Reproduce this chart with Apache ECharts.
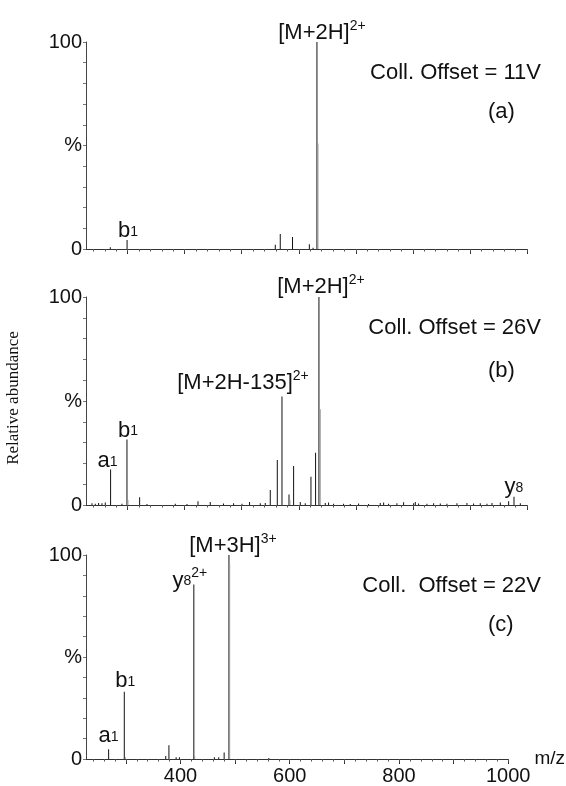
<!DOCTYPE html>
<html>
<head>
<meta charset="utf-8">
<script src="https://cdn.jsdelivr.net/npm/echarts@6/dist/echarts.min.js"></script>
<style>
  html, body { margin: 0; padding: 0; background: #fff; }
  #main { width: 566px; height: 786px; }
</style>
</head>
<body>
<div id="main"></div>
<script>
// axis values
const mzMin = 227;
const mzMax = 1000;
const majorTicks = [300, 400, 500, 600, 700, 800, 900, 1000];
const minorTicks = [240, 260, 280, 300, 320, 340, 360, 380, 400, 420, 440, 460, 480, 500,
  520, 540, 560, 580, 600, 620, 640, 660, 680, 700, 720, 740, 760, 780, 800,
  820, 840, 860, 880, 900, 920, 940, 960, 980, 1000];
const mzLabels = [400, 600, 800, 1000];
const yLabels = [0, 50, 100];

// (a) Coll. Offset = 11V  -- [m/z, %]
const peaksA = [[269.6, 0.8], [299, 4.3], [558.8, 2], [567.5, 7.2], [589, 5.8],
  [618.5, 2.3], [625, 0.6], [631.8, 100]];
const isoA = [[633.6, 51]];
const labelsA = [[299, 'b', '1', ''], [631.8, '[M+2H]', '', '2+']];

// (b) Coll. Offset = 26V
const peaksB = [[237.5, 0.8], [243.3, 0.6], [249.1, 1], [255, 0.8], [260.8, 1.2],
  [270.1, 17.1], [290, 0.6], [298.8, 31.5], [321, 3.7], [333.9, 0.5], [383.5, 0.6],
  [404, 0.5], [423.3, 1.8], [444.8, 1.5], [468, 0.7], [485.7, 0.8], [500.4, 0.6],
  [513.7, 1.5], [532.5, 0.8], [541.2, 1], [550, 7.2], [562.3, 21.6], [570.5, 52.2],
  [582.8, 5.1], [590.9, 18.7], [602.6, 1.5], [611.3, 0.8], [621.3, 13.6],
  [629.4, 25.1], [635.3, 100], [646.4, 1], [652.2, 1.2], [661, 0.6], [678.5, 0.6],
  [690.2, 0.5], [704.8, 0.7], [722.3, 0.5], [742.8, 1], [748.7, 1.2], [757.4, 0.6],
  [772, 0.8], [783.7, 1.3], [801.2, 0.8], [804.2, 1.4], [810, 0.7], [824.6, 0.6],
  [836.3, 0.8], [848, 0.7], [859.7, 0.6], [877.2, 0.8], [894.7, 1], [906.4, 0.7],
  [918.1, 0.9], [929.8, 0.6], [938.6, 1], [953.2, 1.2], [967.8, 1.8], [977.2, 4],
  [988.3, 0.8]];
const isoB = [[300.5, 2.4], [584.5, 2.5], [637.6, 46]];
const labelsB = [[270.1, 'a', '1', ''], [298.8, 'b', '1', ''],
  [570.5, '[M+2H-135]', '', '2+'], [635.3, '[M+2H]', '', '2+'], [977.2, 'y', '8', '']];

// (c) Coll. Offset = 22V
const peaksC = [[268.4, 4.8], [297.1, 33], [373, 1.5], [378.8, 6.7], [392, 0.8],
  [398, 0.8], [424.4, 85.5], [462, 0.8], [470, 0.8], [479.9, 3.2], [488.7, 100],
  [561.7, 0.5]];
const isoC = [[299, 1], [426, 1.5], [490, 96]];
const labelsC = [[268.4, 'a', '1', ''], [297.1, 'b', '1', ''],
  [424.4, 'y', '8', '2+'], [488.7, '[M+3H]', '', '3+']];

const offsetTexts = ['Coll. Offset = 11V', 'Coll. Offset = 26V', 'Coll.  Offset = 22V'];
const panelTags = ['(a)', '(b)', '(c)'];

const grids = [
  { left: 86, width: 441, top: 42, height: 207 },
  { left: 86, width: 441, top: 297, height: 208 },
  { left: 86, width: 441, top: 555, height: 207 }
];
// label placement tweaks per panel: [dx, distance]
const labelTweaks = [
  [[1, 1], [5, 1]],
  [[-3, 0], [1, 1], [-39, 5], [2, 2], [0, 2]],
  [[0, 5], [1, 3], [-4, -4], [4, 1]]
];

const font = '"Liberation Sans", Arial, sans-serif';
const ink = '#111';

const rich = {
  m: { fontSize: 22, fontFamily: font, color: ink, lineHeight: 22, padding: [6, 0, 0, 0] },
  sub: { fontSize: 14, fontFamily: font, color: ink, lineHeight: 12, verticalAlign: 'bottom' },
  sup: { fontSize: 14, fontFamily: font, color: ink, lineHeight: 12, verticalAlign: 'top' }
};

function richText(l) {
  let s = '{m|' + l[1] + '}';
  if (l[2]) s += '{sub|' + l[2] + '}';
  if (l[3]) s += '{sup|' + l[3] + '}';
  return s;
}

function buildData(peaks, iso, labels, tweaks) {
  const data = peaks.map(p => {
    const item = { value: p };
    const k = labels.findIndex(l => l[0] === p[0]);
    if (k >= 0) {
      item.label = {
        show: true,
        position: 'top',
        distance: tweaks[k][1],
        offset: [tweaks[k][0], 0],
        formatter: richText(labels[k]),
        rich: rich
      };
    }
    return item;
  });
  iso.forEach(p => data.push({ value: p, itemStyle: { color: '#9a9a9a' } }));
  return data;
}

const chart = echarts.init(document.getElementById('main'));

const xAxis = [];
const yAxis = [];
const series = [];
const graphic = [];
const panels = [[peaksA, isoA, labelsA], [peaksB, isoB, labelsB], [peaksC, isoC, labelsC]];

panels.forEach((pn, i) => {
  const last = i === 2;
  xAxis.push({
    type: 'value', gridIndex: i, position: 'bottom', min: mzMin, max: mzMax,
    name: last ? 'm/z' : '', nameLocation: 'end', nameGap: 7,
    nameTextStyle: { fontSize: 19, fontFamily: font, color: ink },
    axisLine: { onZero: false, lineStyle: { color: '#333', width: 1 } },
    axisTick: { customValues: majorTicks, length: 5, lineStyle: { color: '#333' } },
    axisLabel: {
      show: last, customValues: mzLabels, fontSize: 20, fontFamily: font, color: ink, margin: 7,
      formatter: v => String(v)
    },
    splitLine: { show: false }
  });
  xAxis.push({
    type: 'value', gridIndex: i, position: 'bottom', min: mzMin, max: mzMax,
    axisLine: { show: false },
    axisTick: { customValues: minorTicks, length: 2.5, lineStyle: { color: '#555' } },
    axisLabel: { show: false },
    splitLine: { show: false }
  });
  yAxis.push({
    type: 'value', gridIndex: i, min: 0, max: 100, interval: 10,
    axisLine: { show: true, lineStyle: { color: '#444', width: 1 } },
    axisTick: { show: true, length: 3, lineStyle: { color: '#777' } },
    axisLabel: {
      customValues: yLabels, fontSize: 20, fontFamily: font, color: ink, margin: 4,
      formatter: v => (v === 50 ? '%' : String(v))
    },
    splitLine: { show: false }
  });
  series.push({
    type: 'bar', xAxisIndex: i * 2, yAxisIndex: i,
    barWidth: 1, barGap: '-100%',
    itemStyle: { color: '#111' },
    label: { show: false, rich: rich },
    data: buildData(pn[0], pn[1], pn[2], labelTweaks[i])
  });
  const g = grids[i];
  graphic.push({
    type: 'text', right: 566 - 541, top: g.top + 20,
    style: { text: offsetTexts[i], font: '22px ' + font, fill: ink }
  });
  graphic.push({
    type: 'text', left: 488, top: g.top + (i === 1 ? 63 : 59),
    style: { text: panelTags[i], font: '22px ' + font, fill: ink, textAlign: 'center' }
  });
});

graphic.push({
  type: 'text', x: 14, y: 398, rotation: Math.PI / 2, originX: 0, originY: 0,
  style: {
    text: 'Relative abundance', font: '17px "Liberation Serif", "Times New Roman", serif',
    fill: ink, textAlign: 'center', textVerticalAlign: 'middle'
  }
});

chart.setOption({
  animation: false,
  backgroundColor: '#fff',
  grid: grids,
  xAxis: xAxis,
  yAxis: yAxis,
  series: series,
  graphic: graphic
});
</script>
</body>
</html>
